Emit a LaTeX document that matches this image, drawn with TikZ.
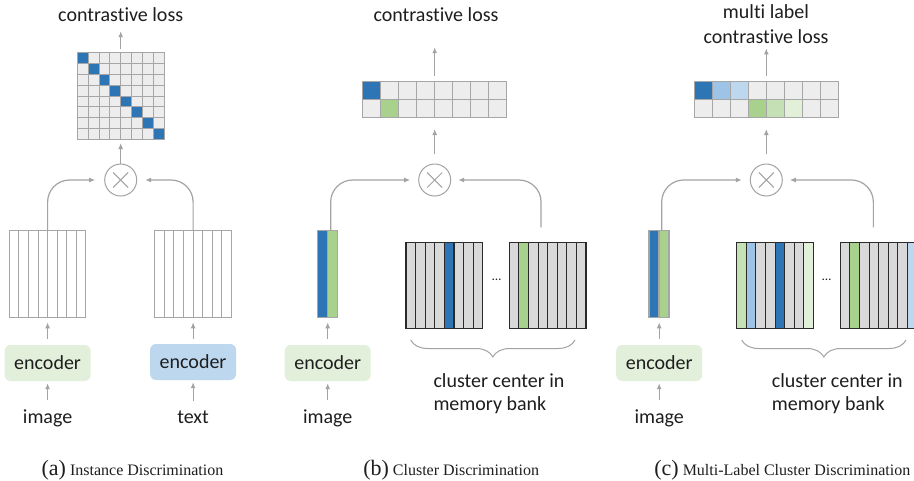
\documentclass[tikz,border=0pt]{standalone}
\usepackage{fontspec}
\setmainfont{Carlito}[Ligatures=NoCommon]
\newfontfamily\capfont{Liberation Serif}
\usetikzlibrary{arrows.meta, decorations.pathreplacing}
\definecolor{ink}{HTML}{1E1E1E}
\definecolor{wire}{HTML}{A3A3A3}
\definecolor{cellfill}{HTML}{EDEDED}
\definecolor{cellline}{HTML}{A6A6A6}
\definecolor{bankfill}{HTML}{D9D9D9}
\definecolor{bankline}{HTML}{2A2A2A}
\definecolor{blueD}{HTML}{2E75B6}
\definecolor{blueM}{HTML}{9DC3E6}
\definecolor{blueL}{HTML}{BDD7EE}
\definecolor{greenD}{HTML}{A9D18E}
\definecolor{greenM}{HTML}{C5E0B4}
\definecolor{greenL}{HTML}{E2F0D9}
\definecolor{enc-green}{HTML}{E2EFDA}
\definecolor{enc-blue}{HTML}{BDD7EE}
\tikzset{
  lbl/.style={font=\fontsize{20}{24}\selectfont, text=ink},
  conn/.style={-{Latex[length=6pt,width=5pt]}, line width=1.2pt, draw=wire},
  conn-bend/.style={conn, rounded corners=22pt},
  enc/.style={lbl, rounded corners=6pt, minimum width=86pt, minimum height=36pt, inner sep=0pt},
  slot/.style={inner sep=0pt, outer sep=0pt},
  simcell/.style={draw=cellline, fill=cellfill, line width=1pt},
  featbox/.style={slot, draw=cellline, fill=white, line width=1pt, minimum width=76.7pt, minimum height=86.6pt},
  featline/.style={draw=cellline, line width=1pt},
  bankcol/.style={draw=bankline, line width=1.1pt},
  vecbox/.style={slot, minimum width=20pt, minimum height=86.6pt},
  mul/.style={circle, draw=wire, line width=1pt, minimum size=32pt, inner sep=0pt,
    path picture={\draw[wire, line width=1pt]
      ([shift={(-7.5pt,-7.5pt)}]path picture bounding box.center) -- ([shift={(7.5pt,7.5pt)}]path picture bounding box.center)
      ([shift={(-7.5pt,7.5pt)}]path picture bounding box.center) -- ([shift={(7.5pt,-7.5pt)}]path picture bounding box.center);}},
  ellip/.style={font=\fontsize{13}{13}\selectfont, text=ink},
  bank-brace/.style={decorate, decoration={brace, mirror, amplitude=17pt}, draw=wire, line width=1pt},
  caption/.style={anchor=base, text=ink, font=\capfont\fontsize{16}{18}\selectfont}
}
\newcommand{\sublabel}[1]{{\fontsize{22}{22}\selectfont(#1)}}

\begin{document}
\begin{tikzpicture}[x=1pt, y=-1pt]
  \fill[white] (0,0) rectangle (914,480);
  \clip (0,0) rectangle (914,480);

  % ===== (a) instance discrimination =====================================
  \node[lbl, anchor=base] (lossA) at (120.7,21) {contrastive loss};
  \node[slot, minimum width=86.8pt, minimum height=86.8pt] (simA) at (120.7,96.1) {};
  \foreach \r in {0,...,7}
    \foreach \c in {0,...,7}
      \draw[simcell] (77.3+\c*10.85,52.7+\r*10.85) rectangle ++(10.85,10.85);
  \foreach \r in {0,...,7}
    \draw[simcell, fill=blueD] (77.3+\r*10.85,52.7+\r*10.85) rectangle ++(10.85,10.85);
  \node[mul] (mulA) at (120.7,180) {};

  \node[featbox] (featI) at (47.6,274) {};
  \node[featbox] (featT) at (193.1,274) {};
  \foreach \c in {1,...,7} {
    \draw[featline] (9.25+\c*9.59,230.7) -- ++(0,86.6);
    \draw[featline] (154.75+\c*9.59,230.7) -- ++(0,86.6);
  }
  \node[enc, fill=enc-green] (encI) at (47.6,363) {encoder};
  \node[enc, fill=enc-blue]  (encT) at (193.1,362) {encoder};
  \node[lbl, anchor=base] (imgI) at (47.6,423) {image};
  \node[lbl, anchor=base] (txtT) at (193.1,423) {text};

  \draw[conn, shorten <=3.5pt, shorten >=6.5pt] (simA.north) -- (simA.north |- lossA.south);
  \draw[conn, shorten >=3.5pt] (mulA.north) -- (mulA.north |- simA.south);
  \draw[conn-bend, shorten >=9pt] (featI.north) |- (mulA.west);
  \draw[conn-bend, shorten >=8pt] (featT.north) |- (mulA.east);
  \draw[conn, shorten <=6pt, shorten >=5pt] (encI.north) -- (encI.north |- featI.south);
  \draw[conn, shorten <=5pt, shorten >=5pt] (encT.north) -- (encT.north |- featT.south);
  \draw[conn, shorten <=6pt, shorten >=2pt] (imgI.north) -- (imgI.north |- encI.south);
  \draw[conn, shorten <=6pt, shorten >=2pt] (txtT.north) -- (txtT.north |- encT.south);

  \node[caption] (capA) at (132.5,475) {\sublabel{a} Instance Discrimination};

  % ===== (b) cluster discrimination ======================================
  \node[lbl, anchor=base] (lossB) at (436,21) {contrastive loss};
  \node[slot, minimum width=144pt, minimum height=36pt] (simB) at (434.7,99) {};
  \foreach \fc [count=\c from 0] in {blueD,cellfill,cellfill,cellfill,cellfill,cellfill,cellfill,cellfill}
    \draw[simcell, fill=\fc] (362.7+\c*18,81) rectangle ++(18,18);
  \foreach \fc [count=\c from 0] in {cellfill,greenD,cellfill,cellfill,cellfill,cellfill,cellfill,cellfill}
    \draw[simcell, fill=\fc] (362.7+\c*18,99) rectangle ++(18,18);
  \node[mul] (mulB) at (434.7,180) {};

  \node[vecbox] (vecB) at (327.7,274) {};
  \draw[draw=cellline, line width=1.5pt, fill=blueD] (vecB.north west) rectangle (vecB.south);
  \draw[draw=cellline, line width=1.5pt, fill=greenD] (vecB.north) rectangle (vecB.south east);

  \node[slot, minimum width=76.7pt, minimum height=86.4pt] (bankB1) at (444.35,285.5) {};
  \node[slot, minimum width=76.7pt, minimum height=86.4pt] (bankB2) at (547.65,285.5) {};
  \foreach \fc [count=\c from 0] in {bankfill,bankfill,bankfill,bankfill,blueD,bankfill,bankfill,bankfill}
    \draw[bankcol, fill=\fc] (406+\c*9.59,242.3) rectangle ++(9.59,86.4);
  \foreach \fc [count=\c from 0] in {bankfill,greenD,bankfill,bankfill,bankfill,bankfill,bankfill,bankfill}
    \draw[bankcol, fill=\fc] (509.3+\c*9.59,242.3) rectangle ++(9.59,86.4);
  \node[ellip] (dotsB) at (496.7,280) {\ldots};
  \draw[bank-brace] ([xshift=4.7pt, yshift=-11.3pt]bankB1.south west) -- ([xshift=-11pt, yshift=-11.3pt]bankB2.south east);
  \node[lbl, anchor=north west, inner sep=0pt, align=left, font=\fontsize{20}{23}\selectfont] (memB) at (433.3,373)
    {cluster center in\\memory bank};

  \node[enc, fill=enc-green] (encB) at (327.7,363) {encoder};
  \node[lbl, anchor=base] (imgB) at (327.7,423) {image};

  \draw[conn, shorten <=5pt, shorten >=22.5pt] (simB.north) -- (simB.north |- lossB.south);
  \draw[conn, shorten <=10pt, shorten >=12pt] (mulB.north) -- (mulB.north |- simB.south);
  \draw[conn-bend, shorten >=8pt] ([xshift=3pt]vecB.north) |- (mulB.west);
  \draw[conn-bend, shorten <=15pt, shorten >=7pt] ([xshift=-6.6pt]bankB2.north) |- (mulB.east);
  \draw[conn, shorten <=6pt, shorten >=5pt] (encB.north) -- (encB.north |- vecB.south);
  \draw[conn, shorten <=6pt, shorten >=2pt] (imgB.north) -- (imgB.north |- encB.south);

  \node[caption] (capB) at (451.2,475) {\sublabel{b} Cluster Discrimination};

  % ===== (c) multi-label cluster discrimination ==========================
  \node[lbl, anchor=north, inner sep=0pt, align=center, font=\fontsize{20}{25}\selectfont] (lossC) at (766,4.3)
    {multi label\\contrastive loss};
  \node[slot, minimum width=144pt, minimum height=36pt] (simC) at (766.3,99) {};
  \foreach \fc [count=\c from 0] in {blueD,blueM,blueL,cellfill,cellfill,cellfill,cellfill,cellfill}
    \draw[simcell, fill=\fc] (694.3+\c*18,81) rectangle ++(18,18);
  \foreach \fc [count=\c from 0] in {cellfill,cellfill,cellfill,greenD,greenM,greenL,cellfill,cellfill}
    \draw[simcell, fill=\fc] (694.3+\c*18,99) rectangle ++(18,18);
  \node[mul] (mulC) at (766.3,180) {};

  \node[vecbox] (vecC) at (659.2,274) {};
  \draw[draw=cellline, line width=1.5pt, fill=blueD] (vecC.north west) rectangle (vecC.south);
  \draw[draw=cellline, line width=1.5pt, fill=greenD] (vecC.north) rectangle (vecC.south east);

  \node[slot, minimum width=76.7pt, minimum height=86.4pt] (bankC1) at (775.05,285.5) {};
  \node[slot, minimum width=76.7pt, minimum height=86.4pt] (bankC2) at (878.65,285.5) {};
  \foreach \fc [count=\c from 0] in {greenM,blueM,bankfill,bankfill,blueD,bankfill,bankfill,greenL}
    \draw[bankcol, fill=\fc] (736.7+\c*9.59,242.3) rectangle ++(9.59,86.4);
  \foreach \fc [count=\c from 0] in {bankfill,greenD,bankfill,bankfill,bankfill,bankfill,bankfill,blueL}
    \draw[bankcol, fill=\fc] (840.3+\c*9.59,242.3) rectangle ++(9.59,86.4);
  \node[ellip] (dotsC) at (826.7,280) {\ldots};
  \draw[bank-brace] ([xshift=5pt, yshift=-11.3pt]bankC1.south west) -- ([xshift=-11pt, yshift=-11.3pt]bankC2.south east);
  \node[lbl, anchor=north west, inner sep=0pt, align=left, font=\fontsize{20}{23}\selectfont] (memC) at (771.7,373)
    {cluster center in\\memory bank};

  \node[enc, fill=enc-green] (encC) at (659.2,363) {encoder};
  \node[lbl, anchor=base] (imgC) at (659.2,423) {image};

  \draw[conn, shorten <=5pt, shorten >=4.7pt] (simC.north) -- (simC.north |- lossC.south);
  \draw[conn, shorten <=10pt, shorten >=12pt] (mulC.north) -- (mulC.north |- simC.south);
  \draw[conn-bend, shorten >=8pt] ([xshift=2.5pt]vecC.north) |- (mulC.west);
  \draw[conn-bend, shorten <=15pt, shorten >=7pt] ([xshift=-5.3pt]bankC2.north) |- (mulC.east);
  \draw[conn, shorten <=6pt, shorten >=5pt] (encC.north) -- (encC.north |- vecC.south);
  \draw[conn, shorten <=6pt, shorten >=2pt] (imgC.north) -- (imgC.north |- encC.south);

  \node[caption] (capC) at (782.3,475) {\sublabel{c} Multi-Label Cluster Discrimination};
\end{tikzpicture}
\end{document}
